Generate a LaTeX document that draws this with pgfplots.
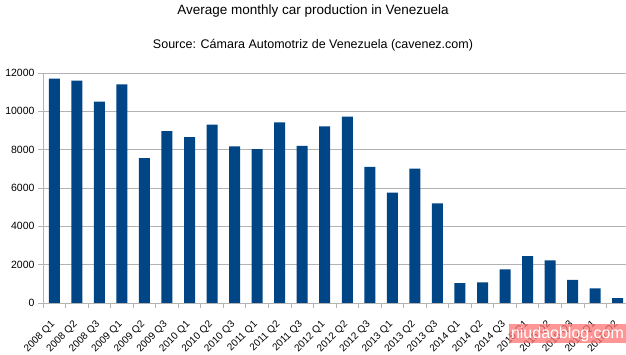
\documentclass[border=0pt]{standalone}
\usepackage{pgfplots}
\pgfplotsset{compat=1.18}
\usepackage{fontspec}
\setmainfont{Liberation Sans}
\definecolor{barblue}{HTML}{004586}
\definecolor{gridgray}{HTML}{B3B3B3}
\begin{document}
\begin{tikzpicture}[x=1pt,y=1pt]
\useasboundingbox (0,0) rectangle (626,355);
\node[font=\fontsize{13.5}{15}\selectfont] at (313,344) {Average monthly car production in Venezuela};
\node[font=\fontsize{12.5}{14}\selectfont] at (313,310) {Source: Cámara Automotriz de Venezuela (cavenez.com)};
\begin{axis}[
  at={(43pt,52pt)}, anchor=south west,
  width=586pt, height=230pt, scale only axis,
  xmin=-0.5, xmax=25.5, ymin=0, ymax=12000,
  ytick={0,2000,...,12000},
  scaled y ticks=false,
  /pgf/number format/.cd, 1000 sep={}, assume math mode=true, /pgfplots/.cd,
  ymajorgrids, major grid style={gridgray, line width=0.8pt},
  axis x line*=bottom, axis y line*=left,
  axis line style={gridgray, line width=0.8pt},
  tick align=outside,
  major tick length=5pt, minor tick length=5pt,
  tick style={gridgray, line width=0.8pt},
  xtick={0,...,25},
  minor xtick={-0.5,0.5,...,25.5},
  every major x tick/.append style={draw=none},
  xticklabels={2008 Q1,2008 Q2,2008 Q3,2009 Q1,2009 Q2,2009 Q3,2010 Q1,2010 Q2,2010 Q3,2011 Q1,2011 Q2,2011 Q3,2012 Q1,2012 Q2,2012 Q3,2013 Q1,2013 Q2,2013 Q3,2014 Q1,2014 Q2,2014 Q3,2015 Q1,2015 Q2,2015 Q3,2016 Q1,2016 Q2},
  xticklabel style={font=\fontsize{10}{11}\selectfont, rotate=45, anchor=north east, xshift=-8pt, yshift=-2pt},
  yticklabel style={font=\fontsize{10.5}{12}\selectfont},
  ybar, bar width=11pt,
]
\addplot[fill=barblue, draw=none] coordinates {
(0,11700) (1,11600) (2,10500) (3,11400) (4,7560) (5,8970) (6,8660) (7,9310)
(8,8170) (9,8030) (10,9420) (11,8200) (12,9210) (13,9730) (14,7100) (15,5760)
(16,7010) (17,5200) (18,1040) (19,1080) (20,1750) (21,2450) (22,2220) (23,1200)
(24,760) (25,260)};
\end{axis}
\node[fill=red!55!white, fill opacity=0.75, text opacity=1, text=white, inner sep=1pt, minimum width=117pt, minimum height=19pt, font=\fontsize{16}{17}\selectfont] at (567.5,21) {niudaoblog.com};
\end{tikzpicture}
\end{document}
